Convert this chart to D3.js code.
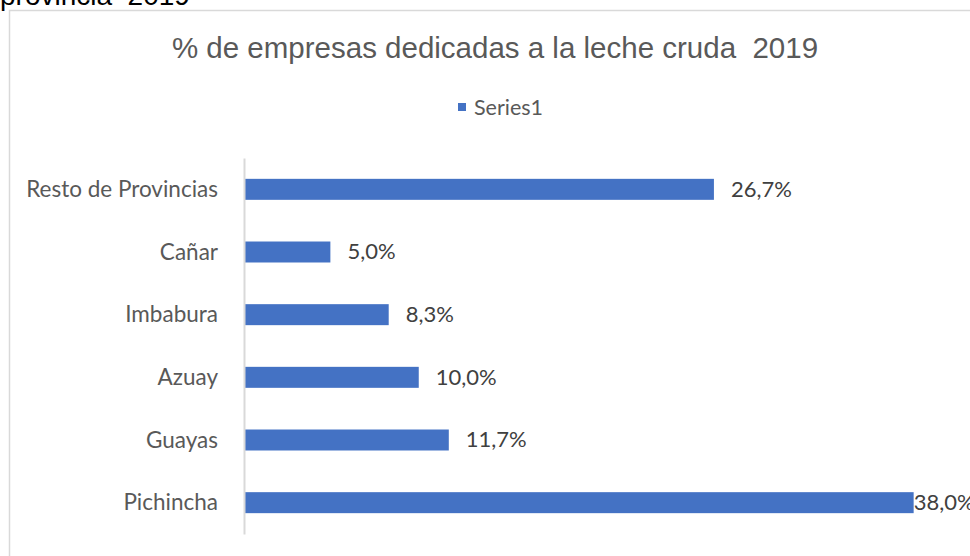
<!DOCTYPE html>
<html>
<head>
<meta charset="utf-8">
<script src="https://cdn.jsdelivr.net/npm/d3@7"></script>
<style>
  body { margin: 0; background: #fff; }
  svg { display: block; }
  text { white-space: pre; }
</style>
</head>
<body>
<script>
// data
var categories = ["Resto de Provincias", "Cañar", "Imbabura", "Azuay", "Guayas", "Pichincha"];
var values = [26.7, 5.0, 8.3, 10.0, 11.7, 38.0];
var seriesName = "Series1";
var chartTitle = "% de empresas dedicadas a la leche cruda  2019";
var topCaption = "provincia  2019";

var w = 970, h = 556;
var labelFont = "Lato, 'Noto Sans', sans-serif";

var svg = d3.select('body').append('svg')
    .attr('width', w)
    .attr('height', h);

// text cut off above the chart frame
svg.append('text')
    .attr('x', 0)
    .attr('y', 5)
    .style('font-family', 'Arial, "Liberation Sans", sans-serif')
    .style('font-size', '28px')
    .style('fill', '#000')
    .text(topCaption);

// chart frame
svg.append('rect')
    .attr('x', 9.5)
    .attr('y', 10.5)
    .attr('width', 1000)
    .attr('height', 600)
    .attr('fill', '#fff')
    .attr('stroke', '#d9d9d9')
    .attr('stroke-width', 1.5);

// title
svg.append('text')
    .attr('x', 495)
    .attr('y', 58)
    .attr('text-anchor', 'middle')
    .style('font-family', 'Arial, "Liberation Sans", sans-serif')
    .style('font-size', '29.5px')
    .style('fill', '#595959')
    .text(chartTitle);

// legend
var legend = svg.append('g').attr('transform', 'translate(458,103)');
legend.append('rect')
    .attr('width', 8)
    .attr('height', 8)
    .attr('fill', '#4472c4');
legend.append('text')
    .attr('x', 16)
    .attr('y', 4)
    .attr('dy', '0.35em')
    .style('font-family', labelFont)
    .style('font-size', '21.5px')
    .style('fill', '#595959')
    .text(seriesName);

// scales
var xScale = d3.scaleLinear()
    .domain([0, 40])
    .range([242, 949]);

var yScale = d3.scaleBand()
    .domain(categories)
    .range([158, 534])
    .paddingInner(0.665)
    .paddingOuter(0.3325);

// bars
svg.selectAll('.bar')
    .data(categories)
    .enter()
    .append('rect')
    .attr('class', 'bar')
    .attr('x', xScale(0) + 3)
    .attr('y', function (d) { return yScale(d); })
    .attr('width', function (d, i) { return xScale(values[i]) - xScale(0) - 3; })
    .attr('height', yScale.bandwidth())
    .attr('fill', '#4472c4');

// category axis
var yAxis = d3.axisLeft(yScale).tickSize(0).tickPadding(26);
var gy = svg.append('g')
    .attr('transform', 'translate(244,0)')
    .call(yAxis);
gy.select('.domain')
    .attr('stroke', '#d9d9d9')
    .attr('stroke-width', 2);
gy.selectAll('text')
    .attr('dy', '0.34em')
    .style('font-family', labelFont)
    .style('font-size', '22.5px')
    .style('fill', '#595959');

// value labels
svg.selectAll('.val')
    .data(categories)
    .enter()
    .append('text')
    .attr('class', 'val')
    .attr('x', function (d, i) {
        var end = xScale(values[i]);
        // the longest bar has its label pressed against the bar end
        return values[i] === d3.max(values) ? end : end + 17;
    })
    .attr('y', function (d) { return yScale(d) + yScale.bandwidth() / 2; })
    .attr('dy', '0.34em')
    .style('font-family', labelFont)
    .style('font-size', '22px')
    .style('fill', '#404040')
    .text(function (d, i) { return values[i].toFixed(1).replace('.', ',') + '%'; });
</script>
</body>
</html>
